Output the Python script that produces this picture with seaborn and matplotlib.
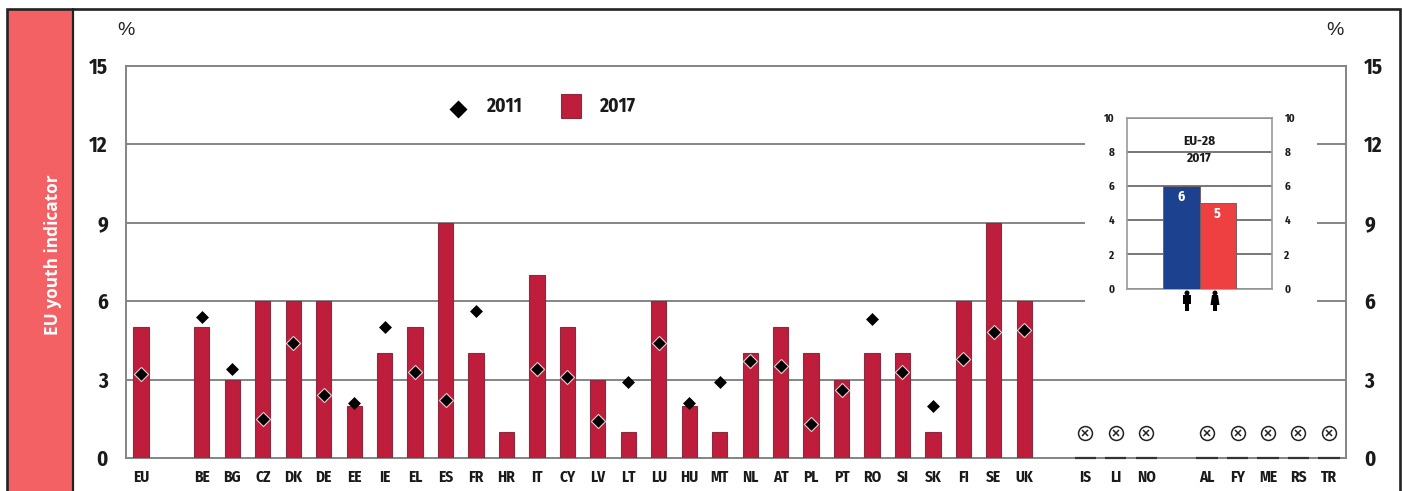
import numpy as np
import pandas as pd
import matplotlib
matplotlib.use("Agg")
import matplotlib.pyplot as plt
from matplotlib.patches import Rectangle, Circle, Polygon
from matplotlib import font_manager as fm
import seaborn as sns

# ---- data ----
groups = [["EU"],
          ["BE","BG","CZ","DK","DE","EE","IE","EL","ES","FR","HR","IT","CY","LV","LT","LU","HU","MT","NL","AT","PL","PT","RO","SI","SK","FI","SE","UK"],
          ["IS","LI","NO"],
          ["AL","FY","ME","RS","TR"]]
values_2017 = [5, 5,3,6,6,6,2,4,5,9,4,1,7,5,3,1,6,2,1,4,5,4,3,4,4,1,6,9,6]
values_2011 = [3.2, 5.4,3.4,1.5,4.4,2.4,2.1,5.0,3.3,2.2,5.6,np.nan,3.4,3.1,1.4,2.9,4.4,2.1,2.9,3.7,3.5,1.3,2.6,5.3,3.3,2.0,3.8,4.8,4.9]
no_data = ["IS","LI","NO","AL","FY","ME","RS","TR"]
no_data_level = 0.95
sex_labels = ["Men","Women"]
sex_values = [6,5]
y_ticks = [0,3,6,9,12,15]
inset_ticks = [0,2,4,6,8,10]

RED = "#BE1E3C"; EDGE = "#8A2A3E"; GREY = "#858585"; DARK = "#1a1a1a"
W, H = 1403, 491
sns.set_theme(style="white")
bold_names = {f.name for f in fm.fontManager.ttflist if str(f.weight) in ("700", "bold")}
prefs = ["Fira Sans Condensed", "IBM Plex Sans Condensed", "Barlow Semi Condensed", "Asap Condensed", "Barlow Condensed"]
narrow = [n for n in prefs if n in bold_names][:1]
plt.rcParams["font.family"] = narrow + ["Liberation Sans", "DejaVu Sans"]

fig = plt.figure(figsize=(W/100, H/100), dpi=100, facecolor="white")
def px_axes(l, t, r, b, **kw):
    return fig.add_axes([l/W, 1-b/H, (r-l)/W, (b-t)/H], **kw)

order = []
for i, g in enumerate(groups):
    if i: order.append(" "*i)
    order += g
labels = [c if c.strip() else "" for c in order]
have = [c for g in groups[:2] for c in g]
df = pd.DataFrame({"c": have, "v17": values_2017, "v11": values_2011})
over_bar = df[df.v11 <= df.v17]
above_bar = df[df.v11 > df.v17]

# ---- main chart ----
ax = px_axes(126, 65.5, 1346, 458)
ax.set_axisbelow(True)
ax.yaxis.grid(True, color=GREY, lw=1.4)
sns.barplot(data=df, x="c", y="v17", order=order, color=RED, saturation=1, width=0.5,
            edgecolor=EDGE, linewidth=0.8, ax=ax, zorder=3)
sns.stripplot(data=over_bar, x="c", y="v11", order=order, jitter=False, marker="D", size=7.2,
              color="black", edgecolor="#E6CDD0", linewidth=0.8, ax=ax, zorder=5)
sns.stripplot(data=above_bar, x="c", y="v11", order=order, jitter=False, marker="D", size=6.6,
              color="black", linewidth=0, ax=ax, zorder=5)
ax.set_xlim(-0.49, len(order)-1+0.56)
ax.set_ylim(0, 15)
ax.set_xlabel(""); ax.set_ylabel("")
ax.set_yticks(y_ticks)
ax.set_xticks(range(len(order)), labels)
ax.tick_params(axis="x", length=0, pad=8, labelsize=11, labelcolor=DARK)
ax.tick_params(axis="y", length=0, pad=13, labelsize=15, labelcolor=DARK, left=False, labelleft=True, labelright=True)
for t in ax.get_xticklabels() + ax.get_yticklabels():
    t.set_fontweight("bold")
for s in ax.spines.values():
    s.set_visible(True); s.set_color(GREY); s.set_linewidth(1.4)
for c in no_data:
    i = order.index(c)
    ax.hlines(0, i-0.35, i+0.35, color="#333333", lw=1.6, zorder=6, clip_on=False)
    ax.plot([i], [no_data_level], "o", ms=10, mfc="white", mec="#222222", mew=1.1, zorder=6)
    ax.plot([i], [no_data_level], "x", ms=4.6, mec="#222222", mew=1.1, zorder=7)

# ---- overlay ----
ov = fig.add_axes([0, 0, 1, 1], zorder=5)
ov.set_xlim(0, W); ov.set_ylim(H, 0); ov.axis("off"); ov.patch.set_alpha(0)
ov.add_patch(Rectangle((1085, 112), 232, 205, fc="white", ec="none"))
ov.add_patch(Rectangle((7, 9), 65, H, fc="#F46164", ec="none"))
ov.plot([7, 7, 1400, 1400], [H, 9, 9, H], color="#222222", lw=1.9, solid_joinstyle="miter")
ov.plot([72.5, 72.5], [9, H], color="#222222", lw=1.6)
ov.text(53.5, 255, "EU youth indicator", rotation=90, color="white", ha="center", va="center",
        family="Open Sans", fontweight="bold", fontsize=12.4)
for x in (126, 1335):
    ov.text(x, 30, "%", ha="center", va="center", family="Liberation Sans", fontsize=14, color="#222222")
ov.plot([458], [108.5], "D", ms=8.8, color="black", mec="none")
ov.add_patch(Rectangle((561, 94), 20, 24, fc=RED, ec=EDGE, lw=0.8))
ov.text(487, 106.5, "2011", va="center", fontweight="bold", fontsize=14, color=DARK)
ov.text(600, 106.5, "2017", va="center", fontweight="bold", fontsize=14, color=DARK)

# person icons under the inset bars
ov.add_patch(Circle((1187, 293), 2.5, fc="black", ec="none"))
ov.add_patch(Rectangle((1183.2, 295), 7.6, 8.5, fc="black", ec="none"))
ov.add_patch(Rectangle((1185, 303), 4.4, 8, fc="black", ec="none"))
ov.add_patch(Circle((1215, 293), 2.5, fc="black", ec="none"))
ov.add_patch(Polygon([(1212, 295), (1218, 295), (1219.5, 305), (1210.5, 305)], fc="black", ec="none"))
ov.add_patch(Rectangle((1213, 304), 4, 7, fc="black", ec="none"))

# ---- inset ----
ins = px_axes(1127, 118, 1272, 288.5, zorder=6)
ins.set_axisbelow(True)
ins.yaxis.grid(True, color="#606060", lw=1.2)
sns.barplot(x=sex_labels, y=sex_values, hue=sex_labels, palette=["#1C418F", "#EE4040"], saturation=1,
            width=1.0, edgecolor="#7a6060", linewidth=0.7, legend=False, ax=ins, zorder=3)
ins.set_xlim(-1.5, 2.5)
ins.set_ylim(0, 10)
ins.set_yticks(inset_ticks)
ins.set_xticks([]); ins.set_xlabel(""); ins.set_ylabel("")
ins.tick_params(axis="y", length=0, pad=9, labelsize=8, labelcolor=DARK, labelleft=True, labelright=True)
for t in ins.get_yticklabels():
    t.set_fontweight("bold")
for s in ins.spines.values():
    s.set_visible(True); s.set_color("#999999"); s.set_linewidth(1.2)
for i, v in enumerate(sex_values):
    ins.text(i, v-0.65, str(v), ha="center", va="center", color="white", fontweight="bold", fontsize=10, zorder=5)
ins.text(0.5, 8.15, "EU-28\n2017", ha="center", va="center", color=DARK, fontweight="bold",
         fontsize=9.5, linespacing=1.45, zorder=5)

fig.savefig("out.png", dpi=100)
